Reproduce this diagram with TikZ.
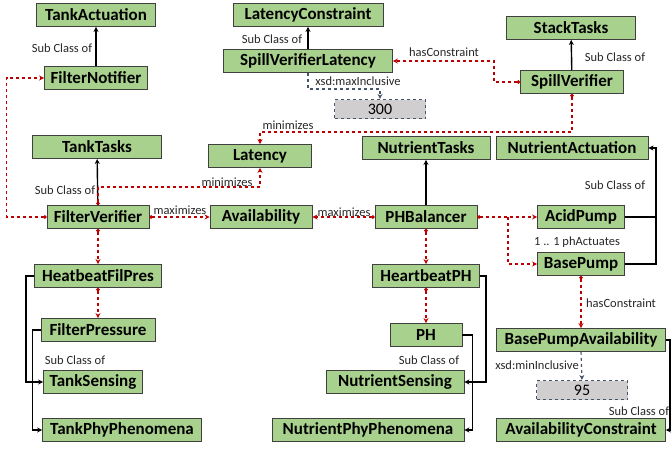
\documentclass[tikz,border=0pt]{standalone}
\usepackage{fontspec}
\setmainfont{Carlito}
\usepackage{tikz}
\usetikzlibrary{arrows.meta}

\definecolor{boxgreen}{HTML}{A9D18E}
\definecolor{relred}{HTML}{C00000}
\definecolor{valgray}{HTML}{D0CECE}
\definecolor{valblue}{HTML}{44546A}

\tikzset{
	cls/.style={draw=black!75, fill=boxgreen, line width=0.9pt, minimum height=23pt, inner sep=1pt, font=\bfseries\fontsize{17}{18}\selectfont},
	val/.style={draw=valblue, fill=valgray, dashed, line width=1.1pt, minimum height=19pt, minimum width=91pt, inner sep=1pt, font=\fontsize{16}{17}\selectfont},
	lbl/.style={inner sep=1pt, text=black!85, font=\fontsize{12.5}{13}\selectfont},
	sub/.style={draw=black, line width=1.4pt, -{Stealth[length=5pt,width=5pt]}},
	plain/.style={draw=black, line width=1.4pt},
	rel/.style={draw=relred, dashed, line width=1.3pt, {Circle[length=3.5pt]}-{Stealth[length=5pt,width=5pt]}},
	relb/.style={draw=relred, dashed, line width=1.3pt, -{Stealth[length=5pt,width=5pt]}},
	lit/.style={draw=valblue, dashed, line width=1.1pt, -{Stealth[length=5pt,width=5pt]}}
}

\begin{document}
\begin{tikzpicture}[x=1pt,y=-1pt]
	\useasboundingbox (0,0) rectangle (671,448);

	% Tank side
	\node[cls, minimum width=119pt] (ta) at (96,15) {TankActuation};
	\node[cls, minimum width=103pt] (fn) at (96,78) {FilterNotifier};
	\node[cls, minimum width=129pt] (tt) at (97,147) {TankTasks};
	\node[cls, minimum width=102pt] (fv) at (98,217) {FilterVerifier};
	\node[cls, minimum width=127pt] (hfp) at (98,276) {HeatbeatFilPres};
	\node[cls, minimum width=114pt] (fp) at (98,330) {FilterPressure};
	\node[cls, minimum width=99pt] (ts) at (93,382) {TankSensing};
	\node[cls, minimum width=159pt] (tpp) at (122,430) {TankPhyPhenomena};

	% Latency / availability
	\node[cls, minimum width=150pt] (lc) at (308,15) {LatencyConstraint};
	\node[cls, minimum width=169pt] (svl) at (308,61) {SpillVerifierLatency};
	\node[val] (v300) at (380,109) {300};
	\node[cls, minimum width=103pt] (lat) at (260,156) {Latency};
	\node[cls, minimum width=102pt] (av) at (261,217) {Availability};

	% Nutrient side
	\node[cls, minimum width=129pt] (st) at (571,28) {StackTasks};
	\node[cls, minimum width=103pt] (sv) at (572,82) {SpillVerifier};
	\node[cls, minimum width=128pt] (nt) at (426,148) {NutrientTasks};
	\node[cls, minimum width=152pt] (na) at (572,148) {NutrientActuation};
	\node[cls, minimum width=102pt] (phb) at (426,217) {PHBalancer};
	\node[cls, minimum width=87pt] (ap) at (581,217) {AcidPump};
	\node[cls, minimum width=87pt] (bp) at (581,264) {BasePump};
	\node[cls, minimum width=107pt] (hph) at (426,276) {HeartbeatPH};
	\node[cls, minimum width=72pt] (ph) at (426,335) {PH};
	\node[cls, minimum width=138pt] (ns) at (395,382) {NutrientSensing};
	\node[cls, minimum width=192pt] (npp) at (368,430) {NutrientPhyPhenomena};
	\node[cls, minimum width=169pt] (bpa) at (581,340) {BasePumpAvailability};
	\node[val] (v95) at (582,390) {95};
	\node[cls, minimum width=169pt] (avc) at (581,430) {AvailabilityConstraint};

	\coordinate (phsplit) at (508,217);
	\coordinate (pjoin) at (656,217);

	% Sub Class of
	\draw[sub] (fn) -- (ta);
	\draw[sub] (fv) -- (tt);
	\draw[sub] (svl) -- (lc);
	\draw[sub] (sv) -- (st);
	\draw[sub] (phb) -- (nt);
	\draw[sub] (hfp.west) -- ++(-8,0) |- (ts.west);
	\draw[sub] (fp.west) -- ++(-8,0) |- (tpp.west);
	\draw[sub] (hph.east) -- ++(6,0) |- (ns.east);
	\draw[sub] (ph.east) -- ++(10,0) |- (npp.east);
	\draw[plain] (ap.east) -- (pjoin);
	\draw[plain] (bp.east) -| (pjoin);
	\draw[sub] (pjoin) |- (na.east);
	\draw[sub] (bpa.east) -- ++(4,0) |- (avc.east);

	% relations
	\draw[rel] (fv.west) -- ++(-40,0) |- (fn.west);
	\draw[rel] (fv.north) -- ++(0,-18) -| (lat.south);
	\draw[rel] (fv.east) -- (av.west);
	\draw[rel] (phb.west) -- (av.east);
	\draw[rel] (fv.south) -- (hfp.north);
	\draw[rel] (hfp.south) -- (fp.north);
	\draw[rel] (sv.west) -- ++(-26,0) |- (svl.east);
	\draw[rel] (sv.south) -- ++(0,38) -| (lat.north);
	\draw[rel] (phb.east) -- (ap.west);
	\draw[relb] (phsplit) |- (bp.west);
	\draw[rel] (phb.south) -- (hph.north);
	\draw[rel] (hph.south) -- (ph.north);
	\draw[rel] (bp.south) -- (bpa.north);

	% literals
	\draw[lit] (svl.south) -- ++(0,16) -| (v300.north);
	\draw[lit] (bpa.south) -- (v95.north);

	% labels
	\node[lbl] (s1) at (62,48) {Sub Class of};
	\node[lbl] (s2) at (65,190) {Sub Class of};
	\node[lbl] (s3) at (272,39) {Sub Class of};
	\node[lbl] (s4) at (615,57) {Sub Class of};
	\node[lbl] (s5) at (615,185) {Sub Class of};
	\node[lbl] (s6) at (75,360) {Sub Class of};
	\node[lbl] (s7) at (429,360) {Sub Class of};
	\node[lbl] (s8) at (639,411) {Sub Class of};
	\node[lbl] (m1) at (227,182) {minimizes};
	\node[lbl] (m2) at (288,125) {minimizes};
	\node[lbl] (x1) at (180,210) {maximizes};
	\node[lbl] (x2) at (344,212) {maximizes};
	\node[lbl] (h1) at (444,52) {hasConstraint};
	\node[lbl] (h2) at (621,303) {hasConstraint};
	\node[lbl] (xs1) at (358,81) {xsd:maxInclusive};
	\node[lbl] (xs2) at (537,365) {xsd:minInclusive};
	\node[lbl] (pa) at (577,242) {1 .. 1 phActuates};
\end{tikzpicture}
\end{document}
